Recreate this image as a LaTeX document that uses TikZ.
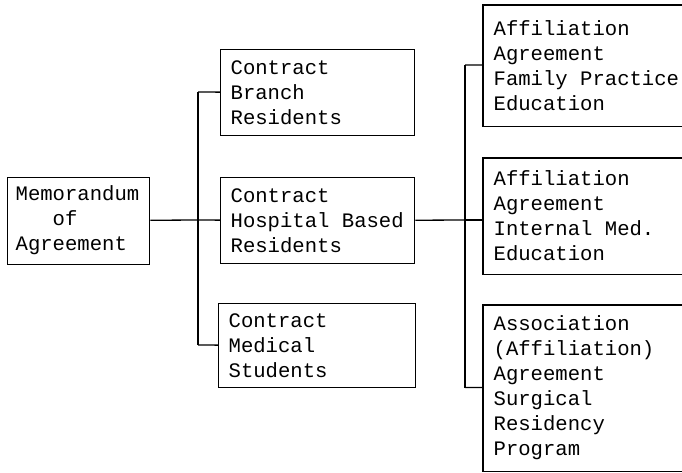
\documentclass[tikz,border=0pt]{standalone}
\usepackage{fontspec}
\setmonofont{Liberation Mono}
\usetikzlibrary{calc}
\newcommand{\tspc}{\hspace*{0.6em}}
\tikzstyle{bx}=[rectangle,draw=black,line width=1.3pt,anchor=north west,
  inner xsep=10pt,inner ysep=0pt,align=left,
  font=\ttfamily\fontsize{20.6}{25}\selectfont]
\tikzstyle{obx}=[style=bx,draw=none,text width=260pt]
\tikzstyle{jn}=[inner sep=0pt,minimum size=0pt]
\begin{document}
\begin{tikzpicture}[x=1pt,y=-1pt,line width=1.3pt]
            \useasboundingbox (0,0) rectangle (682,472);
            \node [style=bx,inner xsep=8pt,text width=126pt,minimum height=87pt] (0) at (7, 176.5) {Memorandum\\\tspc\tspc\tspc of\\Agreement};
            \node [style=bx,text width=174pt,minimum height=86pt] (1) at (220, 49) {Contract\\Branch\\Residents};
            \node [style=bx,text width=174pt,minimum height=86pt] (2) at (220, 177) {Contract\\Hospital\tspc Based\\Residents};
            \node [style=bx,text width=177pt,minimum height=84pt] (3) at (218, 303) {Contract\\Medical\\Students};
            % right column runs off the page edge
            \node [style=obx,minimum height=120pt] (4) at (483, 5) {Affiliation\\Agreement\\Family\tspc Practice\\Education};
            \node [style=obx,minimum height=115pt] (5) at (483, 158) {Affiliation\\Agreement\\Internal\tspc Med.\\Education};
            \node [style=obx,minimum height=165pt] (6) at (483, 305) {Association\\(Affiliation)\\Agreement\\Surgical\\Residency\\Program};
            \foreach \n in {4,5,6}
                \draw (\n.north east) -- (\n.north west) -- (\n.south west) -- (\n.south east);
            \node [style=jn] (7) at (198, 92) {};
            \node [style=jn] (8) at (198, 220) {};
            \node [style=jn] (9) at (198, 345) {};
            \node [style=jn] (10) at (465, 65) {};
            \node [style=jn] (11) at (465, 220) {};
            \node [style=jn] (12) at (465, 387.5) {};
            \draw (0) to (8.center);
            \draw (7.center) to (9.center);
            \draw (7.center) to (1);
            \draw (8.center) to (2);
            \draw (9.center) to (3);
            \draw (2) to (11.center);
            \draw (10.center) to (12.center);
            \draw (10.center) to (4);
            \draw (11.center) to (11.center -| 5.west);
            \draw (12.center) to (6);
    \end{tikzpicture}
\end{document}
